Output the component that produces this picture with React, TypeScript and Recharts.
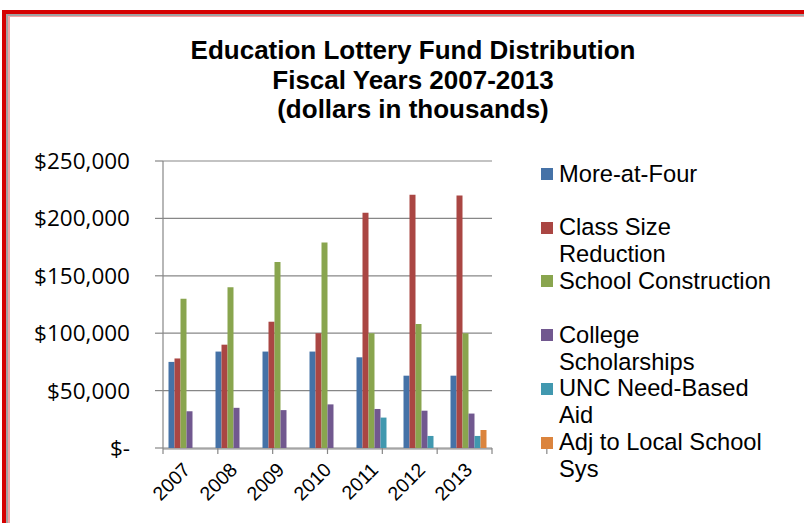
import React from 'react';
import { BarChart, Bar, XAxis, YAxis, CartesianGrid, Legend } from 'recharts';

// fiscal years on the category axis
const YEARS = ['2007', '2008', '2009', '2010', '2011', '2012', '2013'];

// dollars in thousands
const MORE_AT_FOUR = [75000, 84000, 84000, 84000, 79000, 63000, 63000];
const CLASS_SIZE = [78000, 90000, 110000, 100000, 205000, 220500, 220000];
const CONSTRUCTION = [130000, 140000, 162000, 179000, 100000, 108000, 100000];
const SCHOLARSHIPS = [32000, 35000, 33000, 38000, 34000, 32500, 30000];
const UNC_AID = [null, null, null, null, 26500, 10500, 10500];
const ADJ_LOCAL = [null, null, null, null, null, null, 15700];

const Y_TICKS = [0, 50000, 100000, 150000, 200000, 250000];
const SLOT_TICKS = [0, 1, 2, 3, 4, 5, 6, 7];

const SERIES = [
  { key: 'moreAtFour', name: 'More-at-Four', values: MORE_AT_FOUR, color: '#4572A7' },
  { key: 'classSize', name: 'Class Size Reduction', values: CLASS_SIZE, color: '#AA4643' },
  { key: 'construction', name: 'School Construction', values: CONSTRUCTION, color: '#89A54E' },
  { key: 'scholarships', name: 'College Scholarships', values: SCHOLARSHIPS, color: '#71588F' },
  { key: 'uncAid', name: 'UNC Need-Based Aid', values: UNC_AID, color: '#4198AF' },
  { key: 'adjLocal', name: 'Adj to Local School Sys', values: ADJ_LOCAL, color: '#DB843D' },
];

const data = YEARS.map((year, i) => {
  const row: Record<string, any> = { year };
  SERIES.forEach((s) => {
    row[s.key] = s.values[i];
  });
  return row;
});

const GRID = '#878787';

const money = (v: number) => (v === 0 ? '$-' : '$' + v.toLocaleString('en-US'));

const YearTick = ({ x, y, payload }: any) => {
  const px = x + 5;
  const py = y + 22;
  return (
    <text
      x={px}
      y={py}
      textAnchor="end"
      transform={`rotate(-45 ${px} ${py})`}
      fontFamily="'Liberation Sans', Arial, sans-serif"
      fontSize={19.5}
      fill="#000"
    >
      {payload.value}
    </text>
  );
};

const LegendBox = () => (
  <div style={{ fontFamily: "'Liberation Sans', Arial, sans-serif", fontSize: 23.7, lineHeight: '27px', color: '#000' }}>
    {SERIES.map((s) => (
      <div key={s.key} style={{ position: 'relative', height: 53.7 }}>
        <span
          style={{ position: 'absolute', left: 0, top: 7.5, width: 12, height: 12, background: s.color }}
        />
        <div style={{ position: 'absolute', left: 18, top: 0, width: 216 }}>{s.name}</div>
      </div>
    ))}
  </div>
);

export default function App() {
  return (
    <div style={{ position: 'absolute', left: 0, top: 0, width: 804, height: 523, background: '#fff', overflow: 'hidden' }}>
      {/* double red frame, runs off the right and bottom edge */}
      <div style={{ position: 'absolute', left: 2, top: 10, width: 900, height: 600, borderLeft: '4px solid #d50000', borderTop: '4px solid #d50000' }}>
        <div style={{ width: '100%', height: '100%', borderLeft: '2px solid #a2a2a2', borderTop: '2px solid #a2a2a2' }}>
          <div style={{ width: '100%', height: '100%', borderLeft: '2px solid #f3a5a5', borderTop: '1px solid #f3a5a5' }} />
        </div>
      </div>

      <div
        style={{
          position: 'absolute',
          left: 0,
          top: 36,
          width: 826,
          textAlign: 'center',
          fontFamily: "'Liberation Sans', Arial, sans-serif",
          fontWeight: 'bold',
          fontSize: 26,
          lineHeight: '29.5px',
          color: '#000',
        }}
      >
        Education Lottery Fund Distribution
        <br />
        Fiscal Years 2007-2013
        <br />
        (dollars in thousands)
      </div>

      <div style={{ position: 'absolute', left: 0, top: 0 }}>
        <BarChart
          width={804}
          height={523}
          data={data}
          margin={{ top: 161, right: 312, bottom: 73, left: 0 }}
          barCategoryGap={5.5}
          barGap={0}
        >
          <CartesianGrid vertical={false} stroke={GRID} strokeWidth={1.2} />
          <XAxis
            xAxisId="slots"
            type="number"
            domain={[0, 7]}
            ticks={SLOT_TICKS}
            allowDataOverflow
            height={1}
            axisLine={false}
            tickSize={6}
            tickLine={{ stroke: GRID, strokeWidth: 1.2 }}
            tickFormatter={() => ''}
          />
          <XAxis
            xAxisId="years"
            dataKey="year"
            height={1}
            axisLine={{ stroke: GRID, strokeWidth: 1.2 }}
            tickLine={false}
            tickSize={0}
            tickMargin={0}
            interval={0}
            tick={<YearTick />}
          />
          <YAxis
            width={163}
            domain={[0, 250000]}
            ticks={Y_TICKS}
            tickFormatter={money}
            axisLine={{ stroke: GRID, strokeWidth: 1.2 }}
            tickLine={{ stroke: GRID, strokeWidth: 1.2 }}
            tickSize={8}
            tickMargin={25}
            tick={{ fontFamily: "'Open Sans', sans-serif", fontSize: 22.5, fill: '#000' }}
          />
          <Legend
            layout="vertical"
            align="center"
            verticalAlign="middle"
            wrapperStyle={{ left: 541, top: 160.6, width: 260 }}
            content={<LegendBox />}
          />
          {SERIES.map((s) => (
            <Bar
              key={s.key}
              xAxisId="years"
              dataKey={s.key}
              name={s.name}
              fill={s.color}
              isAnimationActive={false}
            />
          ))}
        </BarChart>
      </div>
    </div>
  );
}
